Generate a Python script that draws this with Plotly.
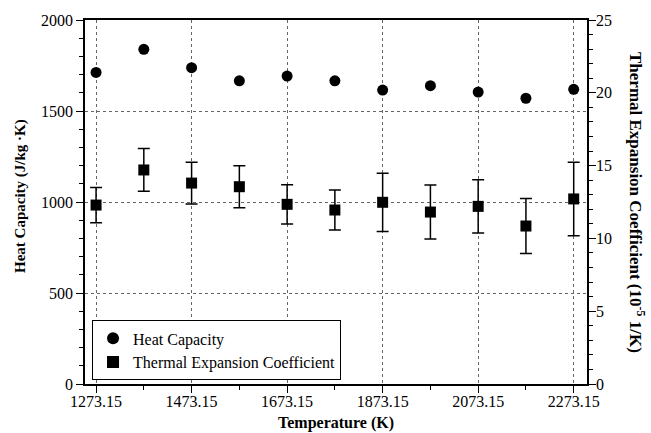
import plotly.graph_objects as go

temps = [1273.15, 1373.15, 1473.15, 1573.15, 1673.15, 1773.15, 1873.15, 1973.15, 2073.15, 2173.15, 2273.15]
heat_capacity = [1712, 1839, 1738, 1666, 1692, 1666, 1615, 1639, 1604, 1570, 1619]
thermal_exp = [12.29, 14.70, 13.80, 13.55, 12.34, 11.95, 12.48, 11.81, 12.20, 10.85, 12.71]
thermal_err = [1.21, 1.47, 1.43, 1.44, 1.35, 1.38, 2.00, 1.85, 1.83, 1.89, 2.52]
x_ticks = [1273.15, 1473.15, 1673.15, 1873.15, 2073.15, 2273.15]
x_ticklabels = ["1273.15", "1473.15", "1673.15", "1873.15", "2073.15", "2273.15"]
x_minor_ticks = [1373.15, 1573.15, 1773.15, 1973.15, 2173.15]

FONT = "Liberation Serif, Times New Roman, serif"

fig = go.Figure()
fig.add_trace(go.Scatter(
    x=temps, y=heat_capacity, mode="markers", name="Heat Capacity",
    marker=dict(symbol="circle", size=11, color="black"),
))
fig.add_trace(go.Scatter(
    x=temps, y=thermal_exp, mode="markers", name="Thermal Expansion Coefficient",
    yaxis="y2",
    marker=dict(symbol="square", size=11, color="black"),
    error_y=dict(type="data", array=thermal_err, visible=True, color="black",
                 thickness=1.5, width=6),
))

axis_common = dict(
    showline=True, linecolor="black", linewidth=1.5,
    ticks="outside", ticklen=7, tickwidth=1.2, tickcolor="black",
    tickfont=dict(family=FONT, size=16, color="black"),
    zeroline=False, automargin=False,
)

fig.update_layout(
    width=651, height=433,
    margin=dict(l=85, r=64, t=20, b=49),
    plot_bgcolor="white", paper_bgcolor="white",
    font=dict(family=FONT, color="black"),
    showlegend=True,
    legend=dict(
        x=0.014, y=0.01, xanchor="left", yanchor="bottom",
        bordercolor="black", borderwidth=1, bgcolor="white",
        font=dict(family=FONT, size=16, color="black"),
        tracegroupgap=0, itemsizing="constant", itemwidth=30,
    ),
    xaxis=dict(
        **axis_common,
        range=[1250, 2301],
        tickvals=x_ticks, ticktext=x_ticklabels,
        ticklabelstandoff=-5,
        showgrid=True, gridcolor="#666", griddash="dot", gridwidth=1,
        mirror=True,
        minor=dict(tickvals=x_minor_ticks,
                   ticks="outside", ticklen=4, tickcolor="black", showgrid=False),
    ),
    yaxis=dict(
        **axis_common,
        range=[0, 2000], dtick=500, tick0=0,
        showgrid=True, gridcolor="#666", griddash="dot", gridwidth=1,
        minor=dict(dtick=100, ticks="outside", ticklen=4, tickcolor="black", showgrid=False),
    ),
    yaxis2=dict(
        **axis_common,
        overlaying="y", side="right",
        range=[0, 25], dtick=5, tick0=0,
        ticklabelstandoff=-3,
        showgrid=False,
        minor=dict(dtick=1, ticks="outside", ticklen=4, tickcolor="black", showgrid=False),
    ),
)

fig.add_annotation(
    text="<b>Temperature (K)</b>",
    xref="paper", yref="paper", x=0.5, y=0, yshift=-39,
    xanchor="center", yanchor="middle", showarrow=False,
    font=dict(family=FONT, size=16, color="black"),
)
fig.add_annotation(
    text="<b>Heat Capacity (J/kg ·K)</b>",
    xref="paper", yref="paper", x=0, y=0.5, xshift=-65, yshift=6,
    xanchor="center", yanchor="middle", textangle=-90, showarrow=False,
    font=dict(family=FONT, size=15, color="black"),
)
fig.add_annotation(
    text="<b>Thermal Expansion Coefficient (10<sup>-5</sup> 1/K)</b>",
    xref="paper", yref="paper", x=1, y=0.5, xshift=50,
    xanchor="center", yanchor="middle", textangle=90, showarrow=False,
    font=dict(family=FONT, size=17, color="black"),
)

fig.write_html("out.html")
